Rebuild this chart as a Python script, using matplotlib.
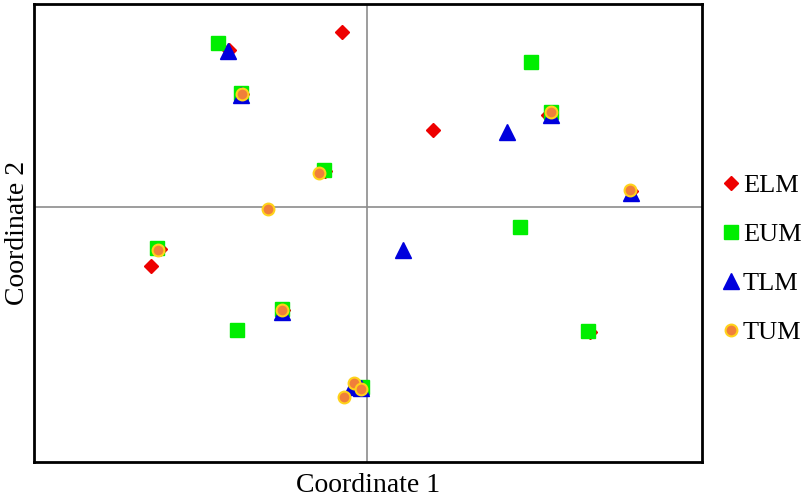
import matplotlib
matplotlib.use("Agg")
import matplotlib.pyplot as plt
import numpy as np

plt.rcParams['font.family'] = ['Liberation Serif', 'DejaVu Serif']

# PCoA coordinates (arbitrary units)
elm_x = [-0.025, -0.138, -0.125, -0.042, 0.066, 0.181, -0.216, -0.207, -0.084, 0.223, 0.264]
elm_y = [0.175, 0.157, 0.113, 0.036, 0.077, 0.092, -0.059, -0.042, -0.103, -0.125, 0.016]

eum_x = [-0.149, -0.126, -0.043, 0.164, 0.184, -0.210, -0.130, -0.085, 0.153, 0.221, -0.005]
eum_y = [0.164, 0.114, 0.037, 0.145, 0.095, -0.041, -0.123, -0.102, -0.020, -0.124, -0.180]

tlm_x = [-0.139, -0.126, 0.184, 0.140, 0.036, -0.085, 0.264, -0.015, -0.006]
tlm_y = [0.156, 0.112, 0.092, 0.075, -0.043, -0.105, 0.014, -0.180, -0.181]

tum_x = [-0.125, -0.048, -0.099, 0.184, 0.263, -0.209, -0.085, -0.013, -0.006, -0.023]
tum_y = [0.113, 0.034, -0.002, 0.095, 0.017, -0.043, -0.103, -0.176, -0.182, -0.190]

labels = ["ELM", "EUM", "TLM", "TUM"]

fig = plt.figure(figsize=(8.10, 4.98), dpi=100)
ax = fig.add_axes([34/810, 36/498, 668/810, 458/498])

ax.axhline(0, color='#8c8c8c', lw=1.2, zorder=1)
ax.axvline(0, color='#8c8c8c', lw=1.2, zorder=1)

ax.plot(elm_x, elm_y, ls='none', marker='D', ms=7.2, color='#ee0000', mec='#ee0000', label=labels[0], zorder=2)
ax.plot(eum_x, eum_y, ls='none', marker='s', ms=9.5, color='#00ee00', mec='#00ee00', label=labels[1], zorder=3)
ax.plot(tlm_x, tlm_y, ls='none', marker='^', ms=11, color='#0000dd', mec='#0000dd', label=labels[2], zorder=4)
ax.plot(tum_x, tum_y, ls='none', marker='o', ms=8.5, color='#f07f3a', mec='#ffd21a', mew=1.5, label=labels[3], zorder=5)

ax.set_xlim(-0.333, 0.335)
ax.set_ylim(-0.255, 0.203)
ax.set_xticks([])
ax.set_yticks([])
for s in ax.spines.values():
    s.set_linewidth(2)
    s.set_color('black')

ax.set_xlabel("Coordinate 1", fontsize=20, labelpad=8)
ax.set_ylabel("Coordinate 2", fontsize=20, labelpad=3)

leg = ax.legend(loc='center left', bbox_to_anchor=(1.0, 0.443), frameon=False,
                fontsize=19, handlelength=0.7, handletextpad=0.1,
                labelspacing=0.97, borderaxespad=0.35)

fig.savefig("out.png", dpi=100)
